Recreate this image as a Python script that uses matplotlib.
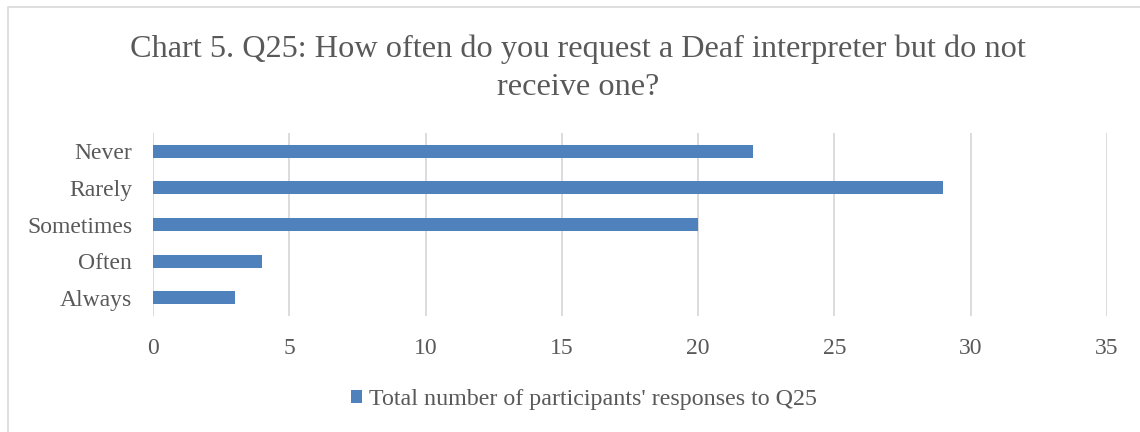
import matplotlib
matplotlib.use("Agg")
import matplotlib.pyplot as plt
from matplotlib.patches import Rectangle

categories = ["Never", "Rarely", "Sometimes", "Often", "Always"]
values = [22, 29, 20, 4, 3]
xticks = [0, 5, 10, 15, 20, 25, 30, 35]
series_name = "Total number of participants' responses to Q25"
title = "Chart 5. Q25: How often do you request a Deaf interpreter but do not\nreceive one?"

plt.rcParams['font.family'] = ['Liberation Serif', 'DejaVu Serif']
txt = "#595959"
bar_color = "#4F81BD"
grid_color = "#D9D9D9"

fig = plt.figure(figsize=(11.4, 4.32), dpi=100)
# chart-area border (top and left visible)
fig.patches.append(Rectangle((8/1140, -0.1), 1.2, 1 - 7/432 + 0.1, transform=fig.transFigure,
                             fill=False, edgecolor=grid_color, linewidth=1.2))

ax = fig.add_axes([153/1140, 1 - 316/432, (1107 - 153)/1140, (316 - 133)/432])
ypos = list(range(len(categories)))
bars = ax.barh(ypos, values, height=0.36, color=bar_color, label=series_name, zorder=3)
ax.set_yticks(ypos)
ax.set_yticklabels(categories)
ax.set_ylim(len(categories) - 0.5, -0.5)
ax.set_xlim(0, 35)
ax.set_xticks(xticks)
ax.xaxis.grid(True, color=grid_color, linewidth=1.3, zorder=0)
for s in ax.spines.values():
    s.set_visible(False)
ax.tick_params(axis='both', length=0, colors=txt, labelsize=17)
ax.tick_params(axis='x', pad=16)
ax.tick_params(axis='y', pad=15)

fig.text(578/1140, 1 - 68/432, title, ha='center', va='center', fontsize=23.2,
         color=txt, linespacing=1.42)

leg = fig.legend(handles=[bars], labels=[series_name], loc='center',
                 bbox_to_anchor=(584/1140, 1 - 400/432), frameon=False,
                 fontsize=17.3, handlelength=0.45, handleheight=0.45, handletextpad=0.3,
                 labelcolor=txt)

fig.savefig("out.png", dpi=100, facecolor="white")
